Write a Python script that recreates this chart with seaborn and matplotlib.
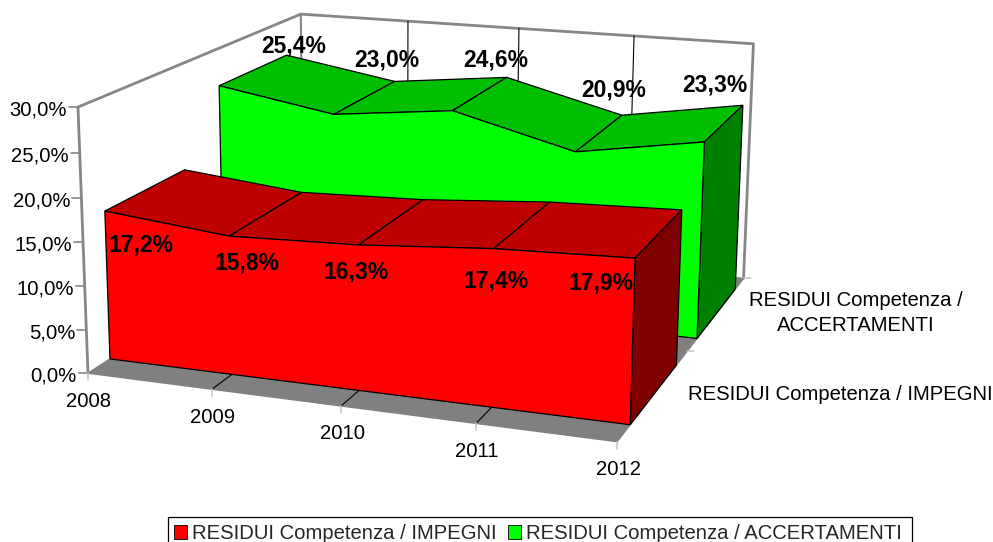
import matplotlib.pyplot as plt
import numpy as np
import pandas as pd
import seaborn as sns
from matplotlib.patches import Patch, Rectangle

years = ["2008", "2009", "2010", "2011", "2012"]
impegni = [17.2, 15.8, 16.3, 17.4, 17.9]
accertamenti = [25.4, 23.0, 24.6, 20.9, 23.3]
y_ticks = [0, 5, 10, 15, 20, 25, 30]
series_names = ["RESIDUI Competenza / IMPEGNI", "RESIDUI Competenza / ACCERTAMENTI"]

# box corners (category, value, depth) -> where they sit in the picture, used to fit the camera
BOX = [
    (0, 0, 0), (0, 30, 0), (0, 0, 1), (0, 30, 1),
    (4, 0, 0), (4, 0, 1), (4, 30, 1),
]
BOX_PX = [
    (89, 373), (77, 107), (302, 234), (302, 14),
    (617, 442), (744, 278), (753, 44),
]

RED_DEPTH = (0.085, 0.415)
GREEN_DEPTH = (0.58, 0.92)

RED_LABELS = [(141, 245), (247, 263), (356, 272), (496, 281), (601, 283)]
GREEN_LABELS = [(294, 46), (387, 60), (496, 60), (614, 90), (715, 85)]


def fit_camera(pts, px):
    rows, rhs = [], []
    for (x, y, z), (u, v) in zip(pts, px):
        rows.append([x, y, z, 1, 0, 0, 0, 0, -u * x, -u * y, -u * z])
        rows.append([0, 0, 0, 0, x, y, z, 1, -v * x, -v * y, -v * z])
        rhs += [u, v]
    sol = np.linalg.lstsq(np.array(rows, float), np.array(rhs, float), rcond=None)[0]
    return np.append(sol, 1).reshape(3, 4)


CAM = fit_camera(BOX, BOX_PX)


def proj(i, val, d):
    p = CAM @ np.array([i, val, d, 1.0])
    return p[0] / p[2], p[1] / p[2]


def poly(ax, pts, color, z):
    ax.fill(*zip(*pts), facecolor=color, edgecolor="black", linewidth=0.9, zorder=z)


def draw_area(ax, values, depth, front, top, side, z):
    d0, d1 = depth
    n = len(values)
    for i in range(n - 1):
        poly(
            ax,
            [
                proj(i, values[i], d0),
                proj(i + 1, values[i + 1], d0),
                proj(i + 1, values[i + 1], d1),
                proj(i, values[i], d1),
            ],
            top,
            z,
        )
    poly(
        ax,
        [proj(n - 1, 0, d0), proj(n - 1, values[-1], d0), proj(n - 1, values[-1], d1), proj(n - 1, 0, d1)],
        side,
        z,
    )
    outline = [proj(i, 0, d0) for i in range(n)][::-1] + [proj(i, values[i], d0) for i in range(n)]
    poly(ax, outline, front, z)


sns.set_theme(style="white")
plt.rcParams["font.family"] = ["Liberation Sans", "DejaVu Sans"]

fig = plt.figure(figsize=(9.93, 5.42), dpi=100)
ax = fig.add_axes([0, 0, 1, 1])
ax.set_xlim(0, 993)
ax.set_ylim(542, 0)
ax.axis("off")

GRAY = "#868686"
TXT = 14.6

# floor and walls
ax.fill(*zip(proj(0, 0, 0), proj(4, 0, 0), proj(4, 0, 1), proj(0, 0, 1)), color="#808080", zorder=1)
wall = pd.DataFrame(
    [proj(0, 0, 0), proj(0, 30, 0), proj(0, 30, 1), proj(4, 30, 1), proj(4, 0, 1)],
    columns=["x", "y"],
)
sns.lineplot(data=wall, x="x", y="y", sort=False, estimator=None, color=GRAY, linewidth=2, ax=ax, zorder=2)
ax.plot(*zip(proj(0, 30, 1), proj(0, 0, 1)), color=GRAY, lw=1.5, zorder=2)

# category grid lines on floor and back wall
for i in range(1, 4):
    ax.plot(*zip(proj(i, 0, 0), proj(i, 0, 1), proj(i, 30, 1)), color="black", lw=0.8, zorder=2)

# value axis ticks and labels
for t in y_ticks:
    x, y = proj(0, t, 0)
    ax.plot([x - 9, x], [y, y], color=GRAY, lw=1.2, zorder=2)
    ax.text(x - 11, y + 3, f"{t:.1f}%".replace(".", ","), ha="right", va="center", fontsize=TXT, color="black")

# category ticks and labels
for i, lab in enumerate(years):
    x, y = proj(i, 0, 0)
    ax.plot([x, x], [y, y + 7], color="#c8c8c8", lw=1.2, zorder=2)
    ax.text(x + 1, y + 28, lab, ha="center", va="center", fontsize=TXT, color="black")

# series ticks and labels
for d in (0.5, 1.0):
    x, y = proj(4, 0, d)
    ax.plot([x, x + 7], [y, y], color="#c8c8c8", lw=1.2, zorder=2)
ax.text(856, 313, "RESIDUI Competenza /\nACCERTAMENTI", ha="center", va="center", fontsize=TXT, color="black", linespacing=1.4)
ax.text(840, 395, "RESIDUI Competenza / IMPEGNI", ha="center", va="center", fontsize=TXT, color="black")

draw_area(ax, accertamenti, GREEN_DEPTH, "#00FF00", "#00BF00", "#008000", 3)
draw_area(ax, impegni, RED_DEPTH, "#FF0000", "#BF0000", "#800000", 4)

for val, (x, y) in zip(accertamenti, GREEN_LABELS):
    ax.text(x, y, f"{val:.1f}%".replace(".", ","), ha="center", va="center", fontsize=16.5, fontweight="bold", color="black", zorder=6)
for val, (x, y) in zip(impegni, RED_LABELS):
    ax.text(x, y, f"{val:.1f}%".replace(".", ","), ha="center", va="center", fontsize=16.5, fontweight="bold", color="black", zorder=6)

# legend frame runs off the bottom of the picture in the original
ax.add_patch(Rectangle((167.5, 517), 744.5, 40, facecolor="white", edgecolor="black", linewidth=0.9, zorder=6))
handles = [
    Patch(facecolor="#FF0000", edgecolor="black", linewidth=0.6, label=series_names[0]),
    Patch(facecolor="#00FF00", edgecolor="black", linewidth=0.6, label=series_names[1]),
]
leg = ax.legend(
    handles=handles,
    ncol=2,
    loc="upper left",
    bbox_to_anchor=(167 / 993, 1 - 517 / 542),
    fontsize=TXT,
    frameon=False,
    borderpad=0.35,
    handlelength=0.65,
    handleheight=0.65,
    handletextpad=0.25,
    columnspacing=0.55,
    borderaxespad=0,
)
leg.set_zorder(7)

fig.savefig("out.png", dpi=100)
